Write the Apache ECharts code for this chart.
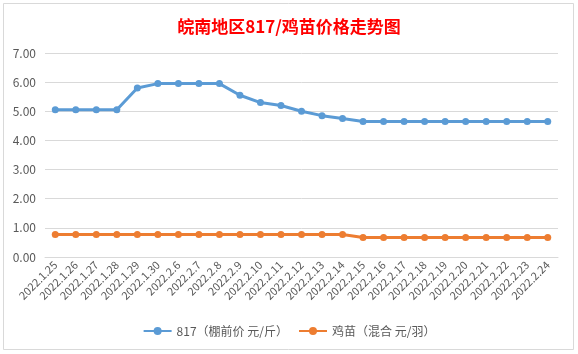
<!DOCTYPE html>
<html>
<head>
<meta charset="utf-8">
<script src="https://cdn.jsdelivr.net/npm/echarts@6/dist/echarts.min.js"></script>
<style>
  html, body { margin: 0; padding: 0; background: #fff; }
  #main { width: 578px; height: 354px; }
</style>
</head>
<body>
<div id="main"></div>
<script>
var dates = ['2022.1.25', '2022.1.26', '2022.1.27', '2022.1.28', '2022.1.29', '2022.1.30',
    '2022.2.6', '2022.2.7', '2022.2.8', '2022.2.9', '2022.2.10', '2022.2.11', '2022.2.12',
    '2022.2.13', '2022.2.14', '2022.2.15', '2022.2.16', '2022.2.17', '2022.2.18', '2022.2.19',
    '2022.2.20', '2022.2.21', '2022.2.22', '2022.2.23', '2022.2.24'];
var price817 = [5.05, 5.05, 5.05, 5.05, 5.8, 5.95, 5.95, 5.95, 5.95, 5.55, 5.3, 5.2, 5.0,
    4.85, 4.75, 4.65, 4.65, 4.65, 4.65, 4.65, 4.65, 4.65, 4.65, 4.65, 4.65];
var priceChick = [0.77, 0.77, 0.77, 0.77, 0.77, 0.77, 0.77, 0.77, 0.77, 0.77, 0.77, 0.77, 0.77,
    0.77, 0.77, 0.67, 0.67, 0.67, 0.67, 0.67, 0.67, 0.67, 0.67, 0.67, 0.67];
var seriesNames = ['817（棚前价 元/斤）', '鸡苗（混合 元/羽）'];

var myChart = echarts.init(document.getElementById('main'));
var font = '"Noto Sans CJK SC", "Noto Sans", sans-serif';

option = {
    backgroundColor: '#fff',
    animation: false,
    graphic: [{
        type: 'rect',
        shape: { x: 3.5, y: 3.5, width: 570, height: 346 },
        style: { fill: 'none', stroke: '#D9D9D9', lineWidth: 1 }
    }],
    title: {
        text: '皖南地区817/鸡苗价格走势图',
        left: 'center',
        top: 13,
        textStyle: { color: '#FF0000', fontSize: 17, fontWeight: 'bold', fontFamily: font }
    },
    legend: {
        bottom: 12,
        itemWidth: 28,
        itemHeight: 10,
        itemGap: 10,
        data: seriesNames,
        textStyle: { color: '#595959', fontSize: 12, fontFamily: font }
    },
    grid: { left: 45, right: 20, top: 53, bottom: 97 },
    xAxis: {
        type: 'category',
        data: dates,
        boundaryGap: true,
        axisLine: { lineStyle: { color: '#D9D9D9' } },
        axisTick: { show: false },
        axisLabel: { rotate: 45, interval: 0, color: '#595959', fontSize: 11, fontFamily: font, margin: 6 }
    },
    yAxis: {
        type: 'value',
        min: 0,
        max: 7,
        interval: 1,
        axisLine: { show: false },
        axisTick: { show: false },
        splitLine: { lineStyle: { color: '#D9D9D9' } },
        axisLabel: {
            color: '#595959', fontSize: 12, fontFamily: font, margin: 9,
            formatter: function (v) { return v.toFixed(2); }
        }
    },
    series: [{
        name: seriesNames[0],
        type: 'line',
        data: price817,
        symbol: 'circle',
        symbolSize: 7,
        itemStyle: { color: '#5B9BD5' },
        lineStyle: { width: 3, color: '#5B9BD5' }
    }, {
        name: seriesNames[1],
        type: 'line',
        data: priceChick,
        symbol: 'circle',
        symbolSize: 7,
        itemStyle: { color: '#ED7D31' },
        lineStyle: { width: 3, color: '#ED7D31' }
    }]
};
myChart.setOption(option);
</script>
</body>
</html>
